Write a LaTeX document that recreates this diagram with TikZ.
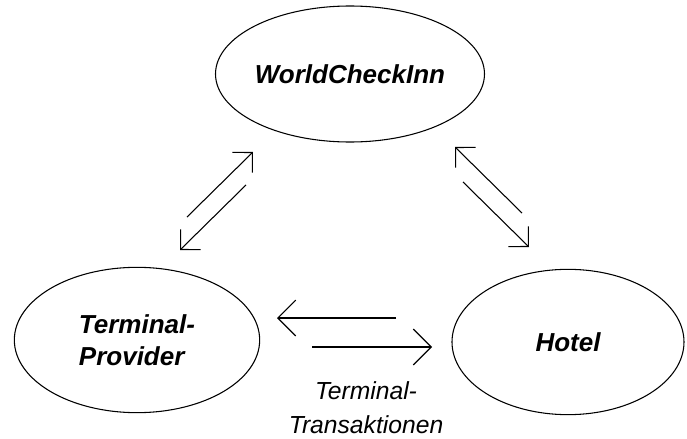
\documentclass[tikz,border=0pt]{standalone}
\usepackage{fontspec}
\setmainfont{Liberation Sans}
\usetikzlibrary{shapes.geometric,arrows.meta}

\begin{document}
\begin{tikzpicture}[x=0.75pt,y=-0.75pt,
        rolle/.style={ellipse,draw,line width=0.8pt,inner sep=0pt,
            font=\fontsize{19.5}{24}\selectfont\bfseries\itshape},
        pfeil/.style={line width=0.8pt,-{Straight Barb[angle=90:#1]}},
        pfeil/.default=19pt]
	\useasboundingbox (0,0) rectangle (687,439);

\node[rolle,minimum width=184pt,minimum height=102pt] (wci) at (350,74) {WorldCheckInn};
\node[rolle,minimum width=184pt,minimum height=109pt,align=left] (tp) at (137,340) {Terminal-\\Provider};
\node[rolle,minimum width=174pt,minimum height=109pt] (hotel) at (568,342) {Hotel};
\node[font=\fontsize{18.5}{25.5}\selectfont\itshape,align=center] (tt) at (366,408) {Terminal-\\Transaktionen};

% Pfeilenden
\coordinate (tpw1) at (187,217); \coordinate (tpw2) at (253,152);
\coordinate (wtp1) at (246,185); \coordinate (wtp2) at (180,250);
\coordinate (hw1) at (522,213);  \coordinate (hw2) at (455,147);
\coordinate (wh1) at (463,182);  \coordinate (wh2) at (529,247);
\coordinate (htp1) at (396,318); \coordinate (htp2) at (277,318);
\coordinate (tph1) at (312,347); \coordinate (tph2) at (432,347);

\draw[pfeil=15pt] (tpw1) -- (tpw2);
\draw[pfeil=15pt] (wtp1) -- (wtp2);
\draw[pfeil=15pt] (hw1) -- (hw2);
\draw[pfeil=15pt] (wh1) -- (wh2);
\draw[pfeil] (htp1) -- (htp2);
\draw[pfeil] (tph1) -- (tph2);
\end{tikzpicture}
\end{document}
